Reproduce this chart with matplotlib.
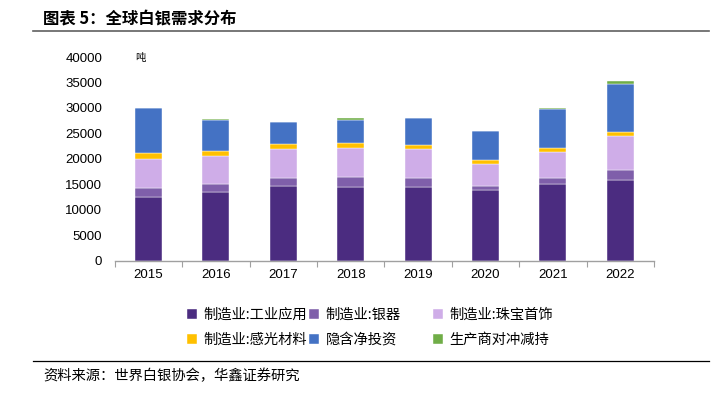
import numpy as np
import matplotlib.pyplot as plt
from matplotlib.lines import Line2D

plt.rcParams['font.family'] = ['Liberation Sans', 'Noto Sans CJK SC', 'DejaVu Sans']

# data (tonnes)
years = ['2015', '2016', '2017', '2018', '2019', '2020', '2021', '2022']
industrial = [12500, 13500, 14650, 14450, 14500, 13900, 15050, 15850]
silverware = [1700, 1500, 1650, 1950, 1750, 800, 1200, 2000]
jewelry = [5850, 5450, 5650, 5700, 5650, 4250, 5000, 6600]
photo = [1050, 1050, 950, 1000, 850, 850, 800, 850]
investment = [8800, 6050, 4300, 4550, 5300, 5700, 7700, 9400]
hedging = [0, 300, 0, 300, 0, 0, 150, 550]

series = [
    ('制造业:工业应用', industrial, '#4B2C80'),
    ('制造业:银器', silverware, '#7F5FAA'),
    ('制造业:珠宝首饰', jewelry, '#CFADE8'),
    ('制造业:感光材料', photo, '#FFC000'),
    ('隐含净投资', investment, '#4472C4'),
    ('生产商对冲减持', hedging, '#70AD47'),
]

fig = plt.figure(figsize=(7.24, 3.94), dpi=100)
ax = fig.add_axes([0.1584, 0.3388, 0.745, 0.5165])

x = np.arange(len(years))
bottom = np.zeros(len(years))
handles = []
for name, vals, col in series:
    b = ax.bar(x, vals, width=0.4, bottom=bottom, color=col,
               edgecolor='white', linewidth=0.3, label=name)
    bottom += np.array(vals)
    handles.append(b)

ax.set_xlim(-0.5, len(years) - 0.5)
ax.set_ylim(0, 40000)
ax.set_yticks(np.arange(0, 40001, 5000))
ax.tick_params(axis='y', length=0, pad=9, labelsize=9.5)

ax.set_xticks(x)
ax.set_xticklabels(years, fontsize=9.5)
ax.set_xticks(np.arange(-0.5, len(years), 1), minor=True)
ax.tick_params(axis='x', which='major', length=0, pad=6)
ax.tick_params(axis='x', which='minor', length=4, color='#A0A0A0', width=0.8)

for s in ['top', 'right', 'left']:
    ax.spines[s].set_visible(False)
ax.spines['bottom'].set_color('#A0A0A0')
ax.spines['bottom'].set_linewidth(1.0)

fig.text(135 / 724, 1 - 58 / 394, '吨', fontsize=7.5, va='center', ha='left',
         family=['Noto Sans CJK SC'])

# legend: three columns placed like the reference, row-major order
col_x = [187, 309, 433]
for i, cx in enumerate(col_x):
    fig.legend(handles=[handles[i], handles[i + 3]], loc='upper left',
               bbox_to_anchor=(cx / 724, 1 - 308 / 394),
               frameon=False, handlelength=0.7, handleheight=0.7,
               handletextpad=0.45, labelspacing=0.75,
               borderpad=0, borderaxespad=0,
               prop={'family': ['Noto Sans CJK SC'], 'size': 10.3})

# title and rules
fig.text(43 / 724, 1 - 18 / 394, '图表 5：全球白银需求分布', fontsize=11.8,
         fontweight='bold', va='center', ha='left',
         family=['Noto Sans CJK SC'])
fig.add_artist(Line2D([33 / 724, 709 / 724], [1 - 31 / 394, 1 - 31 / 394],
                      color='#606060', linewidth=1.2))
fig.add_artist(Line2D([33 / 724, 709 / 724], [1 - 361 / 394, 1 - 361 / 394],
                      color='black', linewidth=0.9))
fig.text(43 / 724, 1 - 376 / 394, '资料来源：世界白银协会，华鑫证券研究', fontsize=10.3,
         va='center', ha='left', family=['Noto Sans CJK SC'])

fig.savefig('out.png', dpi=100)
